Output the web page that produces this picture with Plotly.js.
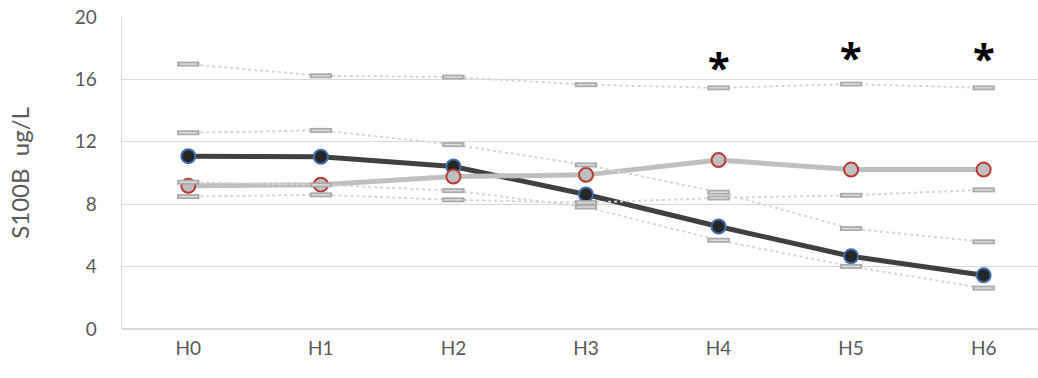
<!DOCTYPE html>
<html>
<head>
<meta charset="utf-8">
<script src="https://cdn.plot.ly/plotly-3.0.1.min.js"></script>
<style>
  html, body { margin: 0; padding: 0; background: #ffffff; overflow: hidden; }
  #chart { width: 1038px; height: 378px; }
</style>
</head>
<body>
<div id="chart"></div>
<script>
// Sampling times
const hours = ['H0', 'H1', 'H2', 'H3', 'H4', 'H5', 'H6'];

// Group A (dark line) central value with its upper and lower bounds
const groupA = [11.08, 11.04, 10.42, 8.62, 6.57, 4.66, 3.44];
const groupAUpper = [12.58, 12.73, 11.82, 10.52, 8.77, 6.44, 5.59];
const groupALower = [9.41, 9.24, 8.87, 7.82, 5.69, 4.01, 2.62];

// Group B (grey line) central value with its upper and lower bounds
const groupB = [9.18, 9.25, 9.77, 9.88, 10.83, 10.22, 10.22];
const groupBUpper = [16.98, 16.23, 16.15, 15.66, 15.46, 15.70, 15.46];
const groupBLower = [8.49, 8.60, 8.28, 8.10, 8.40, 8.57, 8.92];

// Time points marked as significant, and the height of each marker
const sigHours = ['H4', 'H5', 'H6'];
const sigLevel = [16.98, 17.62, 17.55];

const yTicks = [0, 4, 8, 12, 16, 20];

const axisFont = { family: 'Lato, "Open Sans", sans-serif', size: 19, color: '#595959' };

function boundTraces(values) {
  return [
    {
      x: hours, y: values, type: 'scatter', mode: 'lines+markers',
      line: { color: '#D6D6D6', width: 2, dash: 'dot' },
      marker: { symbol: 'line-ew', size: 16, line: { color: '#ABABAB', width: 5 } },
      hoverinfo: 'skip', showlegend: false
    },
    {
      x: hours, y: values, type: 'scatter', mode: 'markers',
      marker: { symbol: 'line-ew', size: 13, line: { color: '#DCDCDC', width: 1.5 } },
      hoverinfo: 'skip', showlegend: false
    }
  ];
}

const traces = [
  {
    x: hours, y: groupA, type: 'scatter', mode: 'lines+markers',
    line: { color: '#404040', width: 5 },
    marker: { size: 14, color: '#262626', line: { color: '#3E6EAD', width: 2 } },
    showlegend: false
  },
  {
    x: hours, y: groupB, type: 'scatter', mode: 'lines+markers',
    line: { color: '#BFBFBF', width: 5 },
    marker: { size: 14, color: '#BFBFBF', line: { color: '#B83A35', width: 2 } },
    showlegend: false
  }
].concat(
  boundTraces(groupBUpper),
  boundTraces(groupBLower),
  boundTraces(groupAUpper),
  boundTraces(groupALower)
);

const annotations = sigHours.map((h, i) => ({
  x: h, y: sigLevel[i], xref: 'x', yref: 'y',
  text: '<b>*</b>', showarrow: false,
  xanchor: 'center', yanchor: 'middle',
  yshift: -2,
  font: { family: '"Noto Sans", sans-serif', size: 40, color: '#000000' }
}));

const layout = {
  width: 1038, height: 378,
  margin: { l: 122, r: 0, t: 17, b: 49, pad: 0 },
  paper_bgcolor: '#ffffff', plot_bgcolor: '#ffffff',
  font: axisFont,
  xaxis: {
    type: 'category', range: [-0.5, 6.41],
    showgrid: false, zeroline: false, showline: false,
    ticks: '', tickfont: axisFont, ticklabelstandoff: 6
  },
  yaxis: {
    range: [0, 20], tickvals: yTicks, ticktext: yTicks.map(String),
    showgrid: true, gridcolor: '#D9D9D9', gridwidth: 1.3,
    zeroline: true, zerolinecolor: '#D9D9D9', zerolinewidth: 1.3,
    showline: true, linecolor: '#D9D9D9', linewidth: 1.3,
    ticks: '', tickfont: axisFont, ticklabelstandoff: 20,
    title: { text: 'S100B  ug/L', font: { family: 'Lato, "Open Sans", sans-serif', size: 24, color: '#595959' }, standoff: 38 }
  },
  annotations: annotations
};

Plotly.newPlot('chart', traces, layout, { staticPlot: true, displayModeBar: false });
</script>
</body>
</html>
